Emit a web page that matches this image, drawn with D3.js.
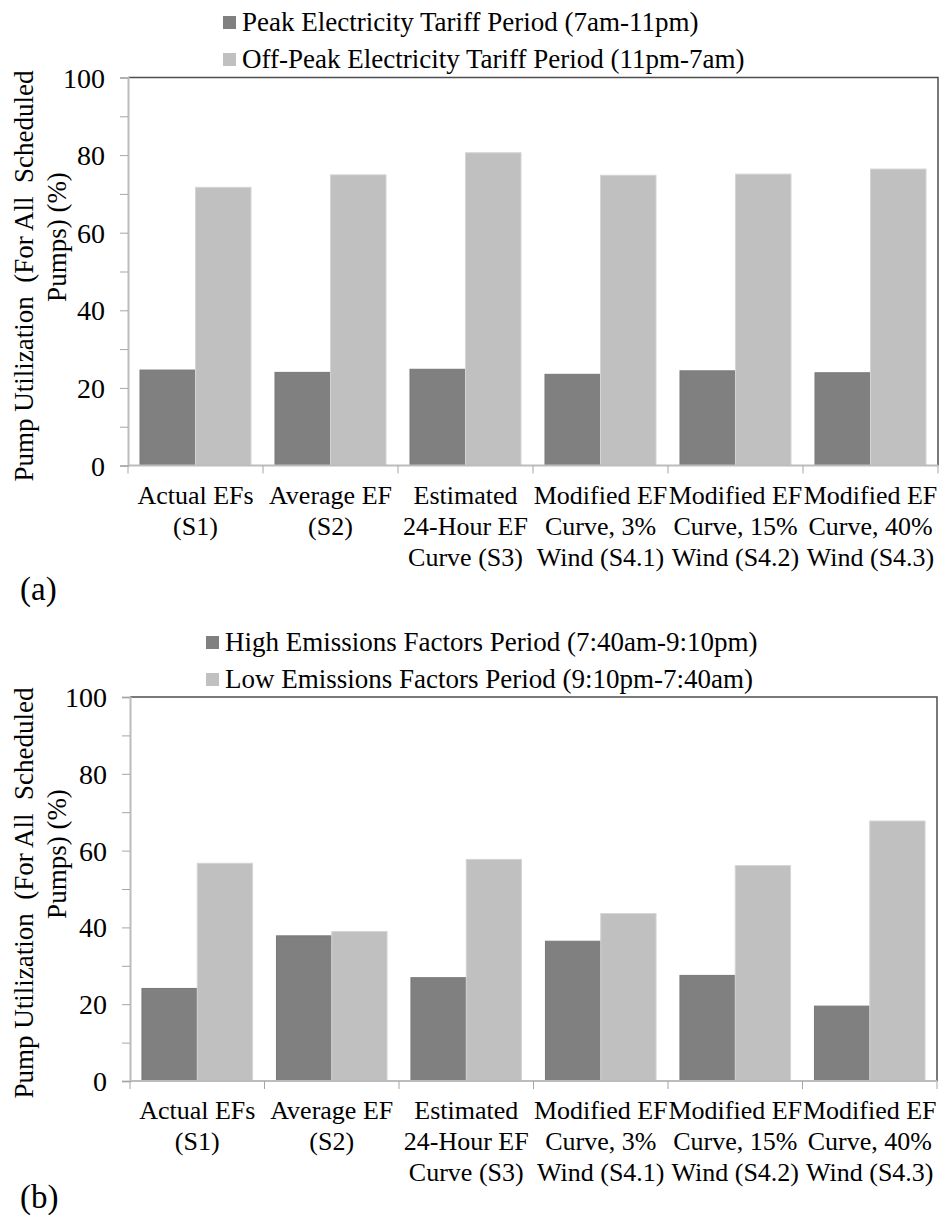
<!DOCTYPE html>
<html>
<head>
<meta charset="utf-8">
<script src="https://cdn.jsdelivr.net/npm/d3@7"></script>
<style>
  body { margin: 0; background: #fff; }
</style>
</head>
<body>
<div id="chart"></div>
<script>
// Data

const categories = [
  ["Actual EFs", "(S1)"],
  ["Average EF", "(S2)"],
  ["Estimated", "24-Hour EF", "Curve (S3)"],
  ["Modified EF", "Curve, 3%", "Wind (S4.1)"],
  ["Modified EF", "Curve, 15%", "Wind (S4.2)"],
  ["Modified EF", "Curve, 40%", "Wind (S4.3)"],
];

// panel (a)
const tariffSeries = ["Peak Electricity Tariff Period (7am-11pm)", "Off-Peak Electricity Tariff Period (11pm-7am)"];
const peakValues = [24.6, 24.0, 24.8, 23.5, 24.4, 23.9];
const offPeakValues = [71.7, 74.9, 80.6, 74.8, 75.1, 76.4];

// panel (b)
const emissionSeries = ["High Emissions Factors Period (7:40am-9:10pm)", "Low Emissions Factors Period (9:10pm-7:40am)"];
const highEfValues = [24.1, 37.8, 26.9, 36.4, 27.5, 19.5];
const lowEfValues = [56.7, 38.9, 57.7, 43.6, 56.1, 67.7];

const yTicks = [0, 20, 40, 60, 80, 100];
const yMinorTicks = [10, 30, 50, 70, 90];
const yLabelLines = ["Pump Utilization  (For All  Scheduled", "Pumps) (%)"];

// Colors
const colors = ["#808080", "#c0c0c0"];
const strokes = ["#787878", "#d4d4d4"];
const FONT = "Liberation Serif";

// Svg
const svg = d3
  .select("#chart")
  .append("svg")
  .attr("width", 941)
  .attr("height", 1216)
  .attr("font-family", FONT);

const addText = (sel, size) =>
  sel.append("text").attr("font-family", FONT).attr("font-size", size).attr("fill", "#000");

// One panel
const drawPanel = (cfg) => {
  const g = svg.append("g");
  const { top, bottom, left, right } = cfg;

  const x0 = d3.scaleBand().domain(d3.range(categories.length)).range([left, right]).padding(0);
  const x1 = d3.scaleBand().domain([0, 1]).range([0, x0.bandwidth()]).paddingInner(0).paddingOuter(0.216);
  const y = d3.scaleLinear().domain([0, 100]).range([bottom, top]);

  // plot area border (top + right)
  g.append("path")
    .attr("d", `M${left},${top}H${right}V${bottom}`)
    .attr("fill", "none")
    .attr("stroke", "#4d4d4d")
    .attr("stroke-width", 1.5);

  // bars
  const rows = categories.map((c, i) => [cfg.values[0][i], cfg.values[1][i]]);
  g.selectAll("g.grp")
    .data(rows)
    .join("g")
    .attr("class", "grp")
    .attr("transform", (d, i) => "translate(" + x0(i) + ",0)")
    .selectAll("rect")
    .data((d) => d)
    .join("rect")
    .attr("x", (d, j) => x1(j))
    .attr("y", (d) => y(d))
    .attr("width", x1.bandwidth())
    .attr("height", (d) => y(0) - y(d))
    .attr("fill", (d, j) => colors[j])
    .attr("stroke", (d, j) => strokes[j])
    .attr("stroke-width", 1);

  // y axis
  const yAxis = g.append("g")
    .attr("transform", "translate(" + left + ",0)")
    .call(d3.axisLeft(y).tickValues(yTicks.concat(yMinorTicks)).tickSize(8).tickFormat((d) => (yTicks.includes(d) ? d : "")))
    .attr("font-family", FONT)
    .attr("font-size", 28);
  yAxis.select(".domain").attr("stroke", "#bcbcbc").attr("stroke-width", 2);
  yAxis.selectAll(".tick line").attr("stroke", "#a6a6a6");
  yAxis.selectAll(".tick text")
    .attr("x", -23)
    .attr("dy", "0.34em")
    .attr("fill", "#000");

  // x axis (category ticks at band edges)
  const xAxis = g.append("g").attr("transform", "translate(0," + bottom + ")");
  xAxis.append("line")
    .attr("x1", left).attr("x2", right)
    .attr("stroke", "#bcbcbc").attr("stroke-width", 2);
  xAxis.selectAll("line.edge")
    .data(d3.range(categories.length + 1))
    .join("line")
    .attr("class", "edge")
    .attr("x1", (i) => (i < categories.length ? x0(i) : right))
    .attr("x2", (i) => (i < categories.length ? x0(i) : right))
    .attr("y1", 0).attr("y2", 8)
    .attr("stroke", "#a6a6a6");

  xAxis.selectAll("text.cat")
    .data(categories)
    .join("text")
    .attr("class", "cat")
    .attr("font-family", FONT)
    .attr("font-size", 26)
    .attr("text-anchor", "middle")
    .attr("transform", (d, i) => "translate(" + (x0(i) + x0.bandwidth() / 2) + ",38)")
    .selectAll("tspan")
    .data((d) => d)
    .join("tspan")
    .attr("x", 0)
    .attr("y", (d, k) => k * 31)
    .text((d) => d);

  // y label
  yLabelLines.forEach((line, k) => {
    addText(g, 27)
      .attr("transform", "translate(" + cfg.yLabelX[k] + "," + cfg.yLabelY[k] + ")rotate(-90)")
      .attr("text-anchor", "middle")
      .style("white-space", "pre")
      .text(line);
  });

  // legend
  const legend = g.append("g").attr("transform", "translate(" + cfg.legendX + "," + cfg.legendY + ")");
  cfg.series.forEach((s, k) => {
    legend.append("rect")
      .attr("x", 0).attr("y", k * 37 - 15)
      .attr("width", 13).attr("height", 13)
      .attr("fill", colors[k]);
    addText(legend, 27)
      .attr("x", 19).attr("y", k * 37)
      .text(s);
  });

  // panel letter
  addText(g, 33)
    .attr("x", 20).attr("y", cfg.letterY)
    .text(cfg.letter);
};

drawPanel({
  top: 77.5, bottom: 465.5, left: 128, right: 938,
  values: [peakValues, offPeakValues],
  series: tariffSeries,
  legendX: 223, legendY: 31,
  yLabelX: [33, 66], yLabelY: [276, 237],
  letter: "(a)", letterY: 600,
});

drawPanel({
  top: 697, bottom: 1081, left: 130, right: 937,
  values: [highEfValues, lowEfValues],
  series: emissionSeries,
  legendX: 206, legendY: 651,
  yLabelX: [33, 66], yLabelY: [893, 854],
  letter: "(b)", letterY: 1208,
});
</script>
</body>
</html>
